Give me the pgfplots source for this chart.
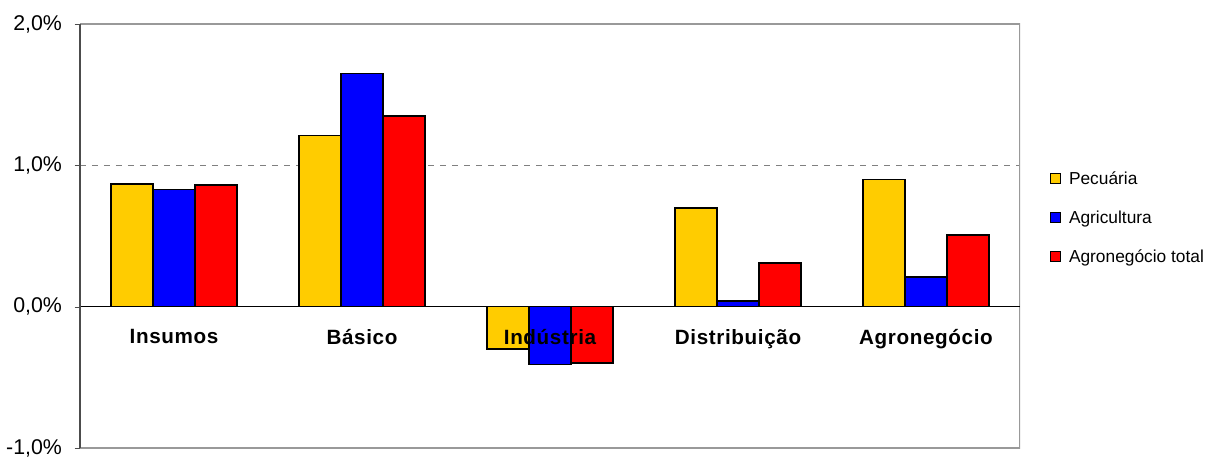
\documentclass[border=0pt]{standalone}
\usepackage{fontspec}
\setmainfont{Liberation Sans}
\newfontfamily\catfont[LetterSpace=3]{Liberation Sans}
\usepackage{pgfplots}
\pgfplotsset{compat=1.18}
\definecolor{cyel}{HTML}{FFCC00}
\definecolor{cblu}{HTML}{0000FF}
\definecolor{cred}{HTML}{FF0000}
\begin{document}
\begin{tikzpicture}
\begin{axis}[
  at={(0pt,0pt)}, anchor=south west,
  scale only axis, width=705pt, height=318pt,
  xmin=-0.5, xmax=4.5, ymin=-1, ymax=2,
  axis x line*=middle, axis y line*=left,
  axis on top,
  hide obscured x ticks=false, hide obscured y ticks=false,
  ybar=0pt, bar width=31.5pt,
  xtick={0,1,2,3,4},
  xticklabels={Insumos,Básico,Indústria,Distribuição,Agronegócio},
  xticklabel style={font=\catfont\bfseries\fontsize{15.5}{18}\selectfont, yshift=-9.5pt},
  x tick style={draw=none},
  extra x ticks={0.5,1.5,2.5,3.5,4.5}, extra x tick labels={},
  extra x tick style={tick style={draw=black}},
  major tick length=4pt, tick align=outside,
  ytick={-1,0,1,2},
  yticklabels={{-1,0\%},{0,0\%},{1,0\%},{2,0\%}},
  yticklabel style={font=\fontsize{16}{19}\selectfont, xshift=-6pt},
  y tick style={draw=black!70},
  axis line style={line width=0.8pt},
  y axis line style={draw=black!70},
  legend style={at={(1.032,0.543)}, anchor=west, draw=none, fill=none,
    font=\fontsize{13}{15.5}\selectfont, row sep=14.3pt, inner sep=0pt},
  legend cell align=left,
  legend image code/.code={\draw[#1, line width=0.8pt] (0pt,-3.75pt) rectangle (7.5pt,3.75pt); \path (11pt,0pt);},
]
\draw[dash pattern=on 4.5pt off 4.5pt, draw=gray, line width=0.8pt] (axis cs:-0.5,1) -- (axis cs:4.5,1);
\addplot[fill=cyel, draw=black, line width=1.2pt] coordinates {(0,0.87) (1,1.21) (2,-0.30) (3,0.70) (4,0.90)};
\addplot[fill=cblu, draw=black, line width=1.2pt] coordinates {(0,0.83) (1,1.65) (2,-0.41) (3,0.04) (4,0.21)};
\addplot[fill=cred, draw=black, line width=1.2pt] coordinates {(0,0.86) (1,1.35) (2,-0.40) (3,0.31) (4,0.505)};
\legend{Pecuária,Agricultura,Agronegócio total}
\draw[gray!80, line width=0.8pt] (rel axis cs:0,0) -- (rel axis cs:1,0) -- (rel axis cs:1,1) -- (rel axis cs:0,1);
\draw[black!70, line width=0.8pt] (rel axis cs:0,0) -- (rel axis cs:0,1);
\end{axis}
\pgfresetboundingbox
\useasboundingbox (-60pt,-7.5pt) rectangle (847.5pt,336pt);
\end{tikzpicture}
\end{document}
